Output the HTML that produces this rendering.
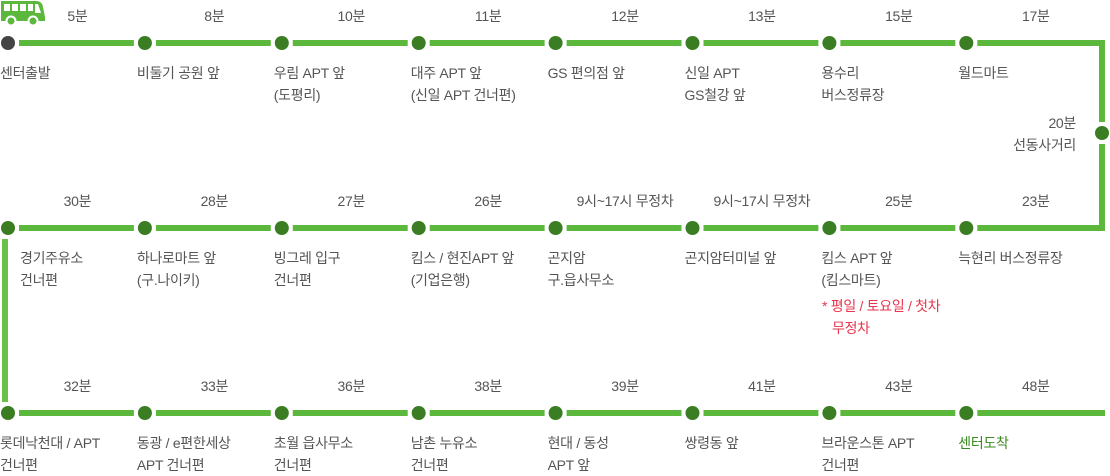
<!DOCTYPE html>
<html><head><meta charset="utf-8">
<style>
html,body{margin:0;padding:0;background:#fff;width:1110px;height:476px;overflow:hidden}
svg{display:block}
text{font-family:"Liberation Sans","Noto Sans CJK KR",sans-serif;font-size:14px;fill:#555;letter-spacing:-0.3px}
</style></head>
<body>
<svg id="chart" width="1110" height="476">
  <g>
    <path d="M1 1 H36 Q42 1 43 7 L45 17 V21 H1 Z" fill="#5cb83c"/>
    <rect x="4" y="4" width="6" height="7" fill="#fff"/>
    <rect x="12" y="4" width="6" height="7" fill="#fff"/>
    <rect x="20" y="4" width="6" height="7" fill="#fff"/>
    <rect x="28" y="4" width="5" height="7" fill="#fff"/>
    <path d="M35 4 H38 L41 13 H35 Z" fill="#fff"/>
    <circle cx="11" cy="21" r="4.5" fill="#5cb83c" stroke="#fff" stroke-width="2"/>
    <circle cx="33" cy="21" r="4.5" fill="#5cb83c" stroke="#fff" stroke-width="2"/>
  </g>
</svg>
<script>
const row1Stops=[["센터출발"],["비둘기 공원 앞"],["우림 APT 앞","(도평리)"],["대주 APT 앞","(신일 APT 건너편)"],["GS 편의점 앞"],["신일 APT","GS철강 앞"],["용수리","버스정류장"],["월드마트"]];
const row1Times=["5분","8분","10분","11분","12분","13분","15분","17분"];
const row2Stops=[["경기주유소","건너편"],["하나로마트 앞","(구.나이키)"],["빙그레 입구","건너편"],["킴스 / 현진APT 앞","(기업은행)"],["곤지암","구.읍사무소"],["곤지암터미널 앞"],["킴스 APT 앞","(킴스마트)"],["늑현리 버스정류장"]];
const row2Times=["30분","28분","27분","26분","9시~17시 무정차","9시~17시 무정차","25분","23분"];
const row3Stops=[["롯데낙천대 / APT","건너편"],["동광 / e편한세상","APT 건너편"],["초월 읍사무소","건너편"],["남촌 누유소","건너편"],["현대 / 동성","APT 앞"],["쌍령동 앞"],["브라운스톤 APT","건너편"],["센터도착"]];
const row3Times=["32분","33분","36분","38분","39분","41분","43분","48분"];
const NS="http://www.w3.org/2000/svg";
const svg=document.getElementById('chart');
const X0=8,DX=136.9,RX=1102;
const rowsY=[43,228,413];
function xOf(i){return X0+i*DX;}
function el(t,a){const e=document.createElementNS(NS,t);for(const k in a)e.setAttribute(k,a[k]);svg.appendChild(e);return e;}
function line(x1,y1,x2,y2,c){const l=el('line',{x1,y1,x2,y2,stroke:c||'#5cb83c','stroke-width':6});

return l;}
function txt(x,y,s,anchor,color){const t=el('text',{x,y,'text-anchor':anchor||'start'});if(color)t.setAttribute('style','fill:'+color);t.textContent=s;return t;}
[0,1,2].forEach(r=>{const y=rowsY[r];
  for(let i=0;i<7;i++)line(xOf(i)+11,y,xOf(i+1)-11,y);
  line(xOf(7)+11,y,r==2?1105:RX+3,y);
});
line(RX,40,RX,122);line(RX,144,RX,231);
line(5,239,5,402,'#6cc04a');
const rows=[row1Stops,row2Stops,row3Stops],times=[row1Times,row2Times,row3Times];
rows.forEach((stops,r)=>{const y=rowsY[r];
  stops.forEach((s,i)=>{const x=xOf(i);
    const c=el('circle',{cx:x,cy:y,r:7,fill:(r==0&&i==0)?'#444':'#3b7d22'});
    
    
    const lx=(r==1&&i==0)?20:(r==2&&i==0?0:x-8);
    s.forEach((ln,k)=>{const t=txt(lx,y+35+k*22,ln,'start',(r==2&&i==7)?'#3b8a22':null);
      
      });
    const tt=txt(x+DX/2+1,y-22,times[r][i],'middle');
    
    
  });
});
const rd=el('circle',{cx:RX,cy:133,r:7,fill:'#3b7d22'});


const a=txt(1076,128,'20분','end');
const b=txt(1076,150,'선동사거리','end');
const n1=txt(822,311,'* 평일 / 토요일 / 첫차','start','#e8354d');


const n2=txt(832,333,'무정차','start','#e8354d');


</script>
</body></html>
